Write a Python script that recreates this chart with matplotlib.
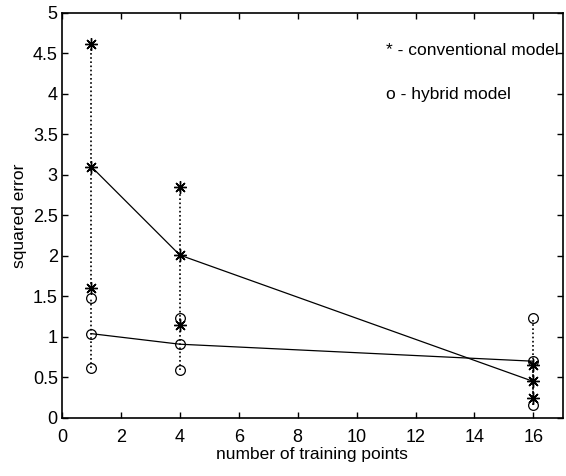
import matplotlib.pyplot as plt

plt.rcParams['font.family'] = ['Liberation Sans', 'DejaVu Sans']

# number of training points
n_train = [1, 4, 16]

# conventional model (*): max, mean, min squared error
conv_max = [4.62, 2.85, 0.65]
conv_mean = [3.10, 2.01, 0.45]
conv_min = [1.60, 1.15, 0.25]

# hybrid model (o): max, mean, min squared error
hyb_max = [1.48, 1.23, 1.23]
hyb_mean = [1.04, 0.91, 0.70]
hyb_min = [0.62, 0.59, 0.16]

fig = plt.figure(figsize=(5.66, 4.76), dpi=100)
ax = fig.add_axes([0.1095, 0.122, 0.885, 0.851])

star = (8, 2, 0)

# vertical dotted ranges
ax.vlines(n_train, conv_min, conv_max, colors='k', linestyles=(0, (1, 1.5)), linewidth=1.2)
ax.vlines(n_train, hyb_min, hyb_max, colors='k', linestyles=(0, (1, 1.5)), linewidth=1.2)

# mean lines
ax.plot(n_train, conv_mean, color='k', linewidth=0.9)
ax.plot(n_train, hyb_mean, color='k', linewidth=0.9)

# markers
for vals in (conv_max, conv_mean, conv_min):
    ax.plot(n_train, vals, linestyle='none', marker=star, markersize=9,
            markeredgecolor='k', markeredgewidth=1.0, color='k')
    ax.plot(n_train, vals, linestyle='none', marker='.', markersize=4, color='k')
for vals in (hyb_max, hyb_mean, hyb_min):
    ax.plot(n_train, vals, linestyle='none', marker='o', markersize=7,
            markerfacecolor='none', markeredgecolor='k', markeredgewidth=0.9)

ax.text(11.0, 4.54, '* - conventional model', fontsize=12.5, va='center', ha='left')
ax.text(11.0, 3.99, 'o - hybrid model', fontsize=12.5, va='center', ha='left')

ax.set_xlim(0, 17)
ax.set_ylim(0, 5)
ax.set_xticks(range(0, 17, 2))
ax.set_yticks([0, 0.5, 1, 1.5, 2, 2.5, 3, 3.5, 4, 4.5, 5])
ax.set_yticklabels(['0', '0.5', '1', '1.5', '2', '2.5', '3', '3.5', '4', '4.5', '5'])
ax.tick_params(direction='in', top=True, right=True, labelsize=13, length=4, width=1, pad=3)
ax.tick_params(axis='x', pad=8)
for sp in ax.spines.values():
    sp.set_linewidth(1.2)

ax.set_xlabel('number of training points', fontsize=12.5, labelpad=1)
ax.set_ylabel('squared error', fontsize=12.5, labelpad=4)

fig.savefig('out.png', dpi=100)
